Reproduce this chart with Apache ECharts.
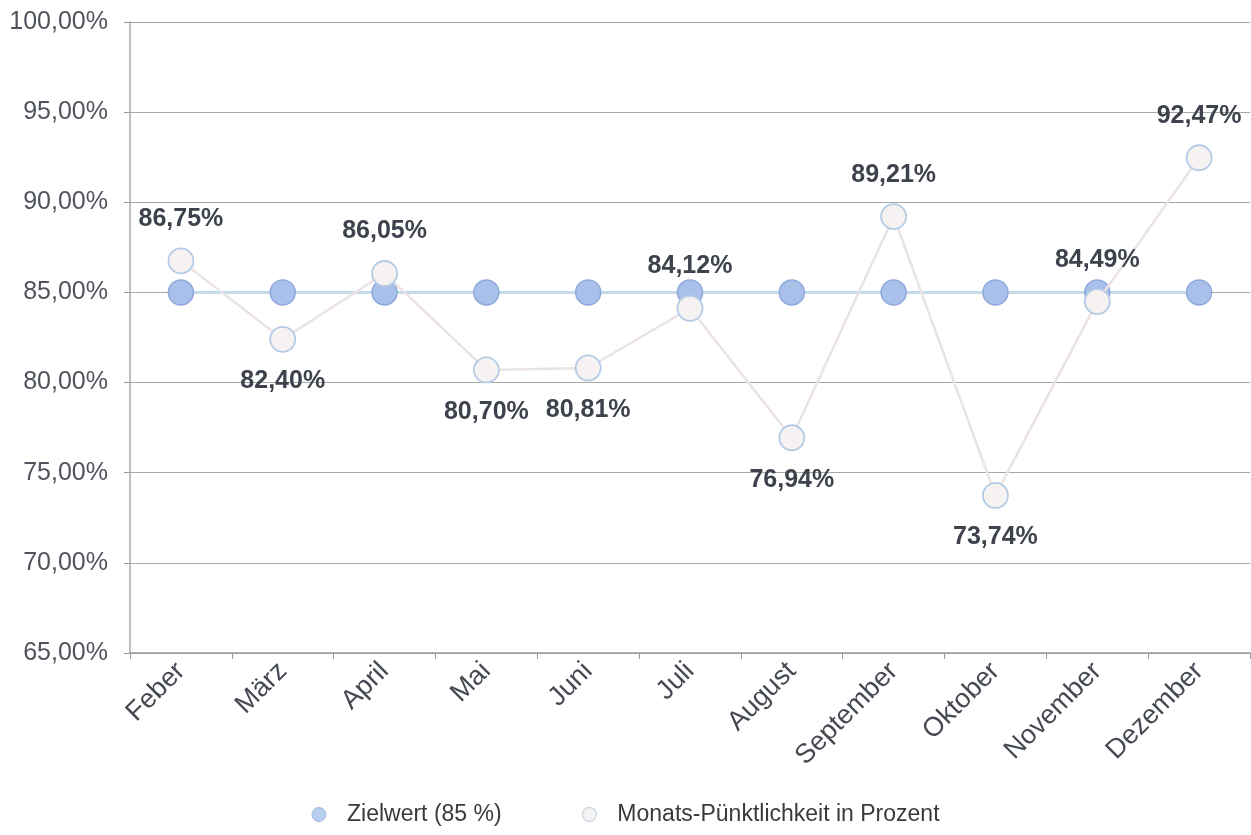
<!DOCTYPE html>
<html>
<head>
<meta charset="utf-8">
<script src="https://cdn.jsdelivr.net/npm/echarts@6/dist/echarts.min.js"></script>
<style>
  html, body { margin: 0; padding: 0; background: #ffffff; }
  #chart { width: 1251px; height: 835px; }
</style>
</head>
<body>
<div id="chart"></div>
<script>
// Monthly punctuality vs. target value
const months = ['Feber', 'März', 'April', 'Mai', 'Juni', 'Juli', 'August', 'September', 'Oktober', 'November', 'Dezember'];
const targetValues = [85, 85, 85, 85, 85, 85, 85, 85, 85, 85, 85];
const punctuality = [86.75, 82.40, 86.05, 80.70, 80.81, 84.12, 76.94, 89.21, 73.74, 84.49, 92.47];
const labelSide = ['top', 'bottom', 'top', 'bottom', 'bottom', 'top', 'bottom', 'top', 'bottom', 'top', 'top'];
const yTicks = [65, 70, 75, 80, 85, 90, 95, 100];

const fmtPct = v => v.toFixed(2).replace('.', ',') + '%';
const FONT = 'Liberation Sans, Arial, sans-serif';

const chart = echarts.init(document.getElementById('chart'));
chart.setOption({
  backgroundColor: '#ffffff',
  animation: false,
  grid: { left: 130, right: 1, top: 22, bottom: 182 },
  legend: {
    bottom: 4,
    left: 'center',
    itemGap: 80,
    itemWidth: 46,
    itemHeight: 14,
    symbolKeepAspect: true,
    textStyle: { fontFamily: FONT, fontSize: 23, color: '#3a3a3a' },
    data: [
      { name: 'Zielwert (85 %)', icon: 'circle', itemStyle: { color: '#b7cdee', borderColor: '#a3bde8', borderWidth: 1 } },
      { name: 'Monats-Pünktlichkeit in Prozent', icon: 'circle', itemStyle: { color: '#f3f3f3', borderColor: '#d0dbe6', borderWidth: 1.5 } }
    ]
  },
  xAxis: {
    type: 'category',
    data: months,
    boundaryGap: true,
    axisLine: { lineStyle: { color: '#9a9a9a', width: 1.5 } },
    axisTick: { show: true, length: 6, lineStyle: { color: '#9a9a9a' } },
    axisLabel: {
      rotate: 45,
      margin: 14,
      fontFamily: FONT,
      fontSize: 27,
      color: '#454a52'
    }
  },
  yAxis: {
    type: 'value',
    min: yTicks[0],
    max: yTicks[yTicks.length - 1],
    interval: 5,
    axisLine: { show: true, lineStyle: { color: '#aaa', width: 1.5 } },
    axisTick: { show: true, length: 6, lineStyle: { color: '#9a9a9a' } },
    splitLine: { lineStyle: { color: '#a8a8a8', width: 1.2 } },
    axisLabel: {
      margin: 22,
      fontFamily: FONT,
      fontSize: 25,
      color: '#4f545c',
      formatter: v => fmtPct(v)
    }
  },
  series: [
    {
      name: 'Zielwert (85 %)',
      type: 'line',
      data: targetValues,
      symbol: 'circle',
      symbolSize: 25,
      z: 2,
      lineStyle: { color: '#c3dbe8', width: 3 },
      itemStyle: { color: '#a9c1ea', borderColor: '#8fa9dc', borderWidth: 1.5 }
    },
    {
      name: 'Monats-Pünktlichkeit in Prozent',
      type: 'line',
      data: punctuality.map((v, i) => ({
        value: v,
        label: { position: labelSide[i] }
      })),
      symbol: 'circle',
      symbolSize: 25,
      z: 3,
      lineStyle: { color: '#ebe3e3', width: 2.5 },
      itemStyle: { color: '#f6f2f2', borderColor: '#b4cbe6', borderWidth: 1.8 },
      label: {
        show: true,
        distance: 16,
        fontFamily: FONT,
        fontSize: 25,
        fontWeight: 'bold',
        color: '#3d424c',
        formatter: p => fmtPct(p.value)
      }
    }
  ]
});
</script>
</body>
</html>
